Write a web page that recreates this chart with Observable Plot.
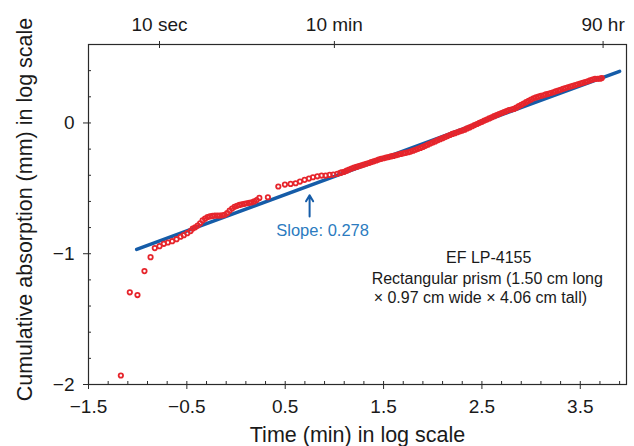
<!DOCTYPE html>
<html><head><meta charset="utf-8">
<script src="https://cdn.jsdelivr.net/npm/d3@7"></script>
<script src="https://cdn.jsdelivr.net/npm/@observablehq/plot@0.6"></script>
<style>html,body{margin:0;padding:0;background:#fff;}</style>
</head><body><div id="chart"></div>
<script>
// log10 time (min) of each reading
const logTime = [
  -1.171, -1.080, -1.002, -0.931, -0.869, -0.826, -0.778, -0.734, -0.693, -0.649, -0.605, -0.564, -0.531, -0.496, -0.462,
  -0.440, -0.415, -0.390, -0.365, -0.340, -0.315, -0.290, -0.265, -0.240, -0.215, -0.190, -0.165, -0.140, -0.115,
  -0.090, -0.065, -0.040, -0.015, 0.010, 0.035, 0.060, 0.085, 0.110, 0.135, 0.160, 0.185, 0.210,
  0.237, 0.324, 0.430, 0.497, 0.555, 0.606, 0.650, 0.697, 0.741, 0.782, 0.827, 0.870, 0.911, 0.952, 0.989, 1.030, 1.060, 1.074,
  1.100, 1.125, 1.150, 1.175, 1.200, 1.225, 1.250, 1.275, 1.300, 1.325,
  1.350, 1.375, 1.400, 1.425, 1.450, 1.475, 1.500, 1.525, 1.550, 1.575,
  1.600, 1.625, 1.650, 1.675, 1.700, 1.725, 1.750, 1.775, 1.800, 1.825,
  1.850, 1.875, 1.900, 1.925, 1.950, 1.975, 2.000, 2.025, 2.050, 2.075,
  2.100, 2.125, 2.150, 2.175, 2.200, 2.225, 2.250, 2.275, 2.300, 2.325,
  2.350, 2.375, 2.400, 2.425, 2.450, 2.475, 2.500, 2.525, 2.550, 2.575,
  2.600, 2.625, 2.650, 2.675, 2.700, 2.725, 2.750, 2.775, 2.800, 2.825,
  2.850, 2.875, 2.900, 2.925, 2.950, 2.975, 3.000, 3.025, 3.050, 3.075,
  3.100, 3.125, 3.150, 3.175, 3.200, 3.225, 3.250, 3.275, 3.300, 3.325,
  3.350, 3.375, 3.400, 3.425, 3.450, 3.475, 3.500, 3.525, 3.550, 3.575,
  3.600, 3.625, 3.650, 3.675, 3.700, 3.719
];
// log10 cumulative absorption (mm)
const logAbsorption = [
  -1.931, -1.295, -1.316, -1.133, -1.026, -0.957, -0.942, -0.924, -0.914, -0.904, -0.889, -0.870, -0.858, -0.843, -0.827,
  -0.808, -0.798, -0.785, -0.767, -0.745, -0.732, -0.720, -0.715, -0.711, -0.708, -0.708, -0.708, -0.706, -0.702,
  -0.690, -0.670, -0.654, -0.641, -0.634, -0.627, -0.622, -0.618, -0.614, -0.611, -0.607, -0.600, -0.590,
  -0.573, -0.568, -0.486, -0.471, -0.466, -0.461, -0.448, -0.435, -0.425, -0.415, -0.408, -0.402, -0.402, -0.397, -0.395, -0.389, -0.382, -0.377,
  -0.374, -0.365, -0.356, -0.349, -0.342, -0.336, -0.330, -0.324, -0.318, -0.312,
  -0.306, -0.299, -0.293, -0.287, -0.280, -0.274, -0.270, -0.265, -0.261, -0.256,
  -0.252, -0.247, -0.242, -0.237, -0.232, -0.228, -0.224, -0.219, -0.212, -0.205,
  -0.198, -0.191, -0.183, -0.175, -0.166, -0.157, -0.149, -0.141, -0.132, -0.124,
  -0.116, -0.108, -0.100, -0.092, -0.084, -0.078, -0.071, -0.064, -0.058, -0.051,
  -0.042, -0.034, -0.025, -0.016, -0.008, 0.001, 0.009, 0.018, 0.026, 0.035,
  0.043, 0.052, 0.060, 0.068, 0.076, 0.084, 0.091, 0.099, 0.103, 0.107,
  0.117, 0.128, 0.138, 0.149, 0.159, 0.169, 0.179, 0.189, 0.195, 0.201,
  0.207, 0.212, 0.218, 0.223, 0.229, 0.235, 0.242, 0.248, 0.254, 0.261,
  0.267, 0.273, 0.279, 0.284, 0.290, 0.296, 0.301, 0.307, 0.313, 0.319,
  0.326, 0.332, 0.337, 0.338, 0.339, 0.343
];
// fitted line (slope 0.278)
const fitTime = [-1.01, 3.90];
const fitAbsorption = [-0.967, 0.395];
const slopeLabel = "Slope: 0.278";

// axes
const bottomTicks = [-1.5, -0.5, 0.5, 1.5, 2.5, 3.5];
const bottomMinorTicks = [-1.5,-1.3,-1.1,-0.9,-0.7,-0.5,-0.3,-0.1,0.1,0.3,0.5,0.7,0.9,1.1,1.3,1.5,1.7,1.9,2.1,2.3,2.5,2.7,2.9,3.1,3.3,3.5,3.7,3.9];
const leftTicks = [-2, -1, 0];
const leftMinorTicks = [-2,-1.8,-1.6,-1.4,-1.2,-1,-0.8,-0.6,-0.4,-0.2,0,0.2,0.4,0.6];
const topTicks = [-0.778, 1, 3.732];
const topTickLabels = ["10 sec", "10 min", "90 hr"];
const xTitle = "Time (min) in log scale";
const yTitle = "Cumulative absorption (mm) in log scale";
const noteLines = ["EF LP-4155", "Rectangular prism (1.50 cm long", "\u00d7 0.97 cm wide \u00d7 4.06 cm tall)"];

// ---- layout ----
const W = 634, H = 446, ML = 88, MR = 8, MT = 44, MB = 62;
const PW = W - ML - MR, PH = H - MT - MB;
const axisColor = "#2a2a2a", red = "#e6252c", blue = "#155ca8", slopeBlue = "#2b7bc0";
const fmt = d => (d < 0 ? "\u2212" : "") + Math.abs(d);

const points = logTime.map((t, i) => ({t, a: logAbsorption[i]}));
const fit = fitTime.map((t, i) => ({t, a: fitAbsorption[i]}));
const notes = noteLines.map((text, i) => ({
  text,
  x: [2.569, 1.379, 1.399][i],
  y: [-1.028, -1.189, -1.341][i],
  anchor: i === 0 ? "middle" : "start"
}));

const chart = Plot.plot({
  width: W, height: H,
  marginLeft: ML, marginRight: MR, marginTop: MT, marginBottom: MB,
  x: {domain: [-1.5, 3.97]},
  y: {domain: [-2, 0.6]},
  style: {fontFamily: "'Liberation Sans', Arial, sans-serif", fontSize: "19px", color: "#1a1a1a", background: "#fff", overflow: "visible"},
  marks: [
    Plot.axisX(bottomTicks, {anchor: "bottom", tickSize: 5, tickPadding: 10, tickFormat: fmt, label: null, stroke: axisColor}),
    Plot.tickX(bottomMinorTicks, {x: d => d, insetTop: PH - 3, stroke: axisColor}),
    Plot.axisX(topTicks, {anchor: "top", tickSize: 4, tickPadding: 10, tickFormat: d => topTickLabels[topTicks.indexOf(d)], label: null, stroke: axisColor}),
    Plot.tickX(topTicks, {x: d => d, insetBottom: PH - 4, stroke: axisColor}),
    Plot.axisY(leftTicks, {anchor: "left", tickSize: 5, tickPadding: 9, tickFormat: fmt, label: null, stroke: axisColor}),
    Plot.tickY(leftMinorTicks, {y: d => d, insetRight: PW - 3, stroke: axisColor}),
    Plot.frame({stroke: axisColor, strokeWidth: 1.2}),
    Plot.line(fit, {x: "t", y: "a", stroke: blue, strokeWidth: 3.5}),
    Plot.dot(points, {x: "t", y: "a", r: 2.2, stroke: red, strokeWidth: 1.8, fill: "none"}),
    Plot.arrow([{x: 0.748}], {x1: "x", x2: "x", y1: () => -0.715, y2: () => -0.552, stroke: blue, strokeWidth: 2, headLength: 8}),
    Plot.text([slopeLabel], {x: () => 0.880, y: () => -0.822, text: d => d, fill: slopeBlue, fontSize: 16.5}),
    Plot.text(notes, {x: "x", y: "y", text: "text", textAnchor: "start", fontSize: 16, fill: "#1a1a1a", filter: d => d.anchor === "start"}),
    Plot.text(notes, {x: "x", y: "y", text: "text", textAnchor: "middle", fontSize: 16, fill: "#1a1a1a", filter: d => d.anchor === "middle"}),
    Plot.text([yTitle], {frameAnchor: "left", text: d => d, rotate: -90, textAnchor: "middle", dx: -63, dy: -5, fontSize: 21.5, lineAnchor: "middle", fill: "#1a1a1a"}),
    Plot.text([xTitle], {frameAnchor: "bottom", text: d => d, textAnchor: "middle", dy: 51, fontSize: 21.5, lineAnchor: "middle", fill: "#1a1a1a"})
  ]
});
document.getElementById("chart").appendChild(chart);
</script>
</body></html>
